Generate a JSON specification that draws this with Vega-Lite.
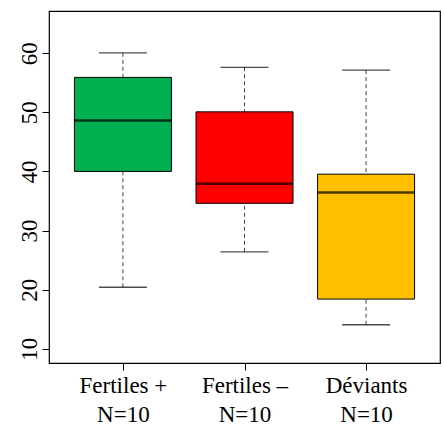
{
  "$schema": "https://vega.github.io/schema/vega-lite/v6.json",
  "width": 391,
  "height": 352,
  "autosize": {"type": "none"},
  "padding": {"left": 49, "top": 11, "right": 4, "bottom": 65},
  "background": "white",
  "config": {
    "view": {"stroke": "black", "strokeWidth": 1.2},
    "font": "Liberation Serif",
    "axis": {
      "labelFont": "Liberation Serif",
      "labelFontSize": 23,
      "labelColor": "black",
      "tickColor": "black",
      "tickSize": 7,
      "domain": false,
      "grid": false,
      "title": null
    }
  },
  "data": {
    "values": [
      {"group": "Fertiles +", "n": "N=10", "wlo": 20.4, "q1": 40.0, "med": 48.6, "q3": 55.9, "whi": 60.05},
      {"group": "Fertiles –", "n": "N=10", "wlo": 26.4, "q1": 34.6, "med": 37.9, "q3": 50.07, "whi": 57.6},
      {"group": "Déviants", "n": "N=10", "wlo": 14.06, "q1": 18.4, "med": 36.44, "q3": 39.53, "whi": 57.13}
    ]
  },
  "encoding": {
    "x": {
      "field": "group",
      "type": "nominal",
      "sort": null,
      "scale": {"type": "point", "padding": 0.608},
      "axis": {
        "title": null,
        "labelAngle": 0,
        "labelPadding": 4,
        "labelLineHeight": 29,
        "labelExpr": "[datum.value, 'N=10']"
      }
    }
  },
  "layer": [
    {
      "mark": {"type": "rule", "strokeDash": [4, 3], "color": "#444", "strokeWidth": 1},
      "encoding": {
        "y": {
          "field": "whi",
          "type": "quantitative",
          "scale": {"domain": [7.59, 67.13], "nice": false, "zero": false},
          "axis": {
            "title": null,
            "values": [10, 20, 30, 40, 50, 60],
            "labelAngle": -90,
            "labelFont": "Liberation Serif",
            "labelFontSize": 23,
            "labelPadding": 1
          }
        },
        "y2": {"field": "q3"}
      }
    },
    {
      "mark": {"type": "rule", "strokeDash": [4, 3], "color": "#444", "strokeWidth": 1},
      "encoding": {
        "y": {"field": "wlo", "type": "quantitative"},
        "y2": {"field": "q1"}
      }
    },
    {
      "mark": {"type": "tick", "size": 48, "thickness": 1.3, "color": "black"},
      "encoding": {"y": {"field": "whi", "type": "quantitative"}}
    },
    {
      "mark": {"type": "tick", "size": 48, "thickness": 1.3, "color": "black"},
      "encoding": {"y": {"field": "wlo", "type": "quantitative"}}
    },
    {
      "mark": {"type": "bar", "size": 97, "stroke": "black", "strokeWidth": 1, "opacity": 1},
      "encoding": {
        "y": {"field": "q1", "type": "quantitative"},
        "y2": {"field": "q3"},
        "fill": {
          "field": "group",
          "type": "nominal",
          "scale": {"domain": ["Fertiles +", "Fertiles –", "Déviants"], "range": ["#00B050", "#FF0000", "#FFC000"]},
          "legend": null
        }
      }
    },
    {
      "mark": {"type": "tick", "size": 97, "thickness": 2.5, "color": "black"},
      "encoding": {"y": {"field": "med", "type": "quantitative"}}
    }
  ]
}
